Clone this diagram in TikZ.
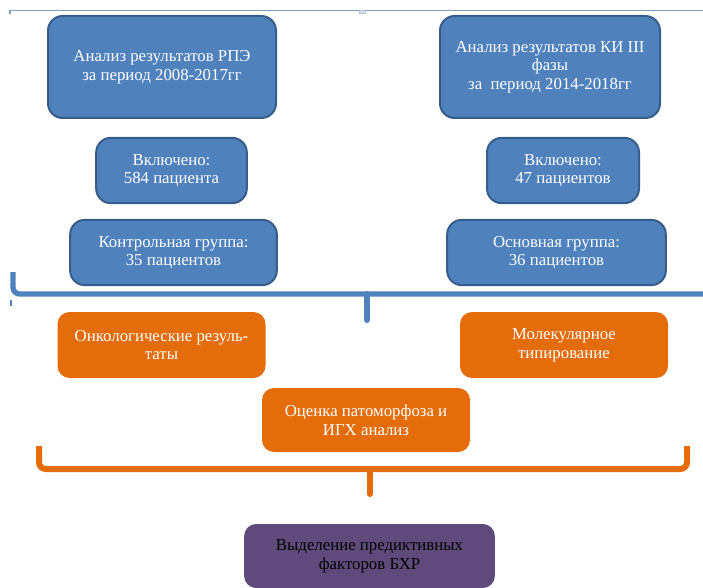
\documentclass[tikz,border=0pt]{standalone}
\usepackage{fontspec}
\setmainfont{Liberation Serif}
\usetikzlibrary{positioning}
\definecolor{BoxBlue}{HTML}{4F81BD}
\definecolor{EdgeBlue}{HTML}{385D8A}
\definecolor{BoxOrange}{HTML}{E46C0A}
\definecolor{BoxPurple}{HTML}{604A7B}
\definecolor{FrameLine}{HTML}{7F9FBF}
\tikzstyle{BlueBox} = [draw=EdgeBlue, line width=1.5pt, fill=BoxBlue, rounded corners=11pt, text=white, align=center, font=\fontsize{12.6}{14}\selectfont]
\tikzstyle{OrangeBox} = [fill=BoxOrange, rounded corners=9pt, text=white, align=center, minimum width=156pt, font=\fontsize{12.6}{14}\selectfont]
\tikzstyle{PurpleBox} = [fill=BoxPurple, rounded corners=9pt, text=black, align=center, font=\fontsize{12.6}{14}\selectfont]
\tikzstyle{BlueBrace} = [draw=BoxBlue, line width=4pt, rounded corners=5pt]
\tikzstyle{OrangeBrace} = [draw=BoxOrange, line width=4.5pt, rounded corners=5pt]

\begin{document}
\begin{tikzpicture}[x=0.75pt, y=-0.75pt]
    \useasboundingbox (0,0) rectangle (703,588);
    % frame of the text box
    \draw[FrameLine, line width=0.8pt] (10,14) -- (10,10.5) -- (703,10.5);
    \draw[FrameLine!60, fill=FrameLine!30, line width=0.4pt] (359,10.5) rectangle (365,13.5);
    \draw[BoxBlue, line width=0.8pt] (11,300) -- (11,306);
    % sources
    \node[BlueBox, minimum width=171pt, minimum height=76.5pt] (rpe)   at (162,67)    {Анализ результатов РПЭ\\за период 2008-2017гг};
    \node[BlueBox, minimum width=165pt, minimum height=76.5pt] (ki)    at (550,67)    {Анализ результатов КИ III\\фазы\\за\ \ период 2014-2018гг};
    \node[BlueBox, minimum width=113pt, minimum height=49pt]   (inclA) at (171.5,170.5) {Включено:\\584 пациента};
    \node[BlueBox, minimum width=114pt, minimum height=49pt]   (inclB) at (563,170.5) {Включено:\\47 пациентов};
    \node[BlueBox, minimum width=155pt, minimum height=49pt]   (control) at (173.5,252.5) {Контрольная группа:\\35 пациентов};
    \node[BlueBox, minimum width=164pt, minimum height=49pt]   (main)  at (556.5,252.5) {Основная группа:\\36 пациентов};
    % first brace
    \coordinate (bluemid) at (367,294);
    \draw[BlueBrace] (13,272) -- (13,294) -- (706,294);
    \draw[BoxBlue, line width=4.5pt, line cap=round] (bluemid) -- (367,320);
    % methods
    \node[OrangeBox, minimum height=49.5pt] (onco)  at (161.5,345) {Онкологические резуль-\\таты};
    \node[OrangeBox, minimum height=49.5pt] (molec) at (564,345)   {Молекулярное\\типирование};
    \node[OrangeBox, minimum height=48pt]   (patho) at (366,420)   {Оценка патоморфоза и\\ИГХ анализ};
    % second brace
    \coordinate (orangemid) at (370,469);
    \draw[OrangeBrace] (39,446) -- (39,469) -- (687,469) -- (687,446);
    \draw[BoxOrange, line width=4.5pt, line cap=round] (orangemid) -- (370,494);
    % result
    \node[PurpleBox, minimum width=188pt, minimum height=48pt] (predict) at (369.5,556) {Выделение предиктивных\\факторов БХР};
\end{tikzpicture}
\end{document}
